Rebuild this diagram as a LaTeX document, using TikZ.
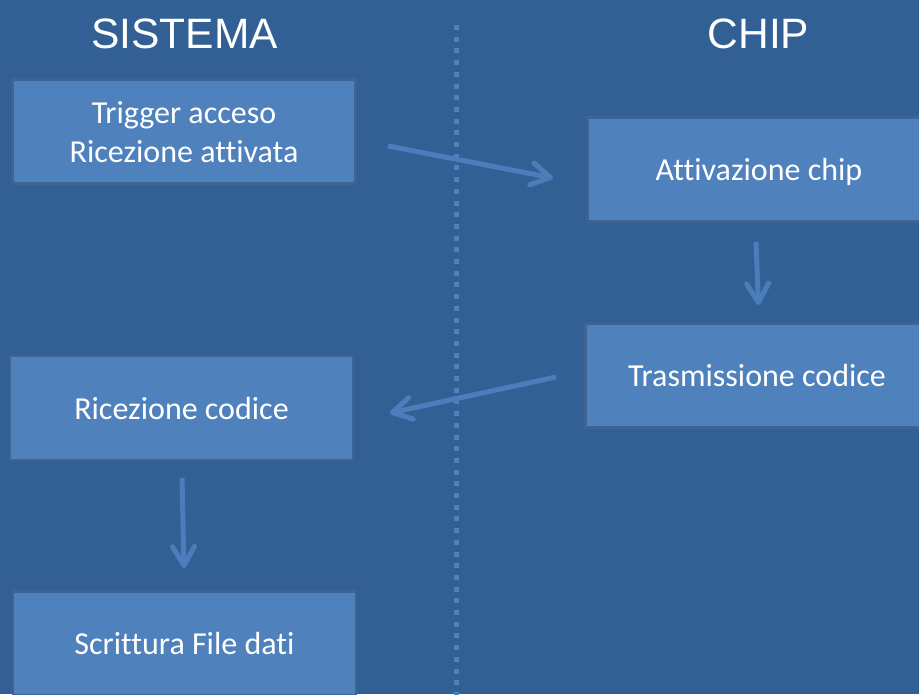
\documentclass[tikz,border=0pt]{standalone}
\usepackage{fontspec}
\setmainfont{Carlito}[Ligatures={NoCommon,NoRequired,NoContextual}]
\newfontfamily\titlefont{Liberation Sans}
\usetikzlibrary{arrows.meta}
\definecolor{bgcol}{HTML}{326094}
\definecolor{boxcol}{HTML}{4F81BD}
\definecolor{edgecol}{HTML}{3D6494}
\definecolor{arrcol}{HTML}{4A7DBA}
\begin{document}
\begin{tikzpicture}[x=1pt,y=-1pt,
  stepbox/.style={fill=boxcol,draw=edgecol,line width=2.5pt,minimum width=343pt,minimum height=104pt,
    inner sep=0pt,align=center,text=white,text depth=0pt,font=\fontsize{32}{39}\selectfont},
  title/.style={anchor=base,text=white,font=\titlefont\fontsize{42.5}{48}\selectfont,inner sep=0pt},
  flow/.style={draw=arrcol,line width=5pt,-{Straight Barb[length=19pt,width=22pt,round]}},
  divider/.style={draw=boxcol,line width=5pt,dash pattern=on 5pt off 6.7pt}]
\useasboundingbox (0,0) rectangle (919,694);
\clip (0,0) rectangle (919,694);
\fill[bgcol] (0,0) rectangle (919,694);
% divider
\coordinate (dtop) at (456,25);
\coordinate (dbot) at (456,700);
\draw[divider] (dtop) -- (dbot);
% titles
\node[title] (t1) at (184.5,48) {SISTEMA};
\node[title] (t2) at (758.5,48) {CHIP};
% boxes
\node[stepbox] (b1) at (184,131.5) {Trigger acceso\\Ricezione attivata};
\node[stepbox] (b2) at (759,169.5) {Attivazione chip};
\node[stepbox] (b3) at (757,375.5) {Trasmissione codice};
\node[stepbox] (b4) at (181.5,408) {Ricezione codice};
\node[stepbox] (b5) at (184.5,643.5) {Scrittura File dati};
% arrow ends
\coordinate (a1s) at (388,146);
\coordinate (a1e) at (553,178);
\coordinate (a2s) at (756,242);
\coordinate (a2e) at (758.5,305);
\coordinate (a3s) at (556,377);
\coordinate (a3e) at (390,413);
\coordinate (a4s) at (182,478);
\coordinate (a4e) at (184,568);
\draw[flow] (a1s) -- (a1e);
\draw[flow] (a2s) -- (a2e);
\draw[flow] (a3s) -- (a3e);
\draw[flow] (a4s) -- (a4e);
\end{tikzpicture}
\end{document}
